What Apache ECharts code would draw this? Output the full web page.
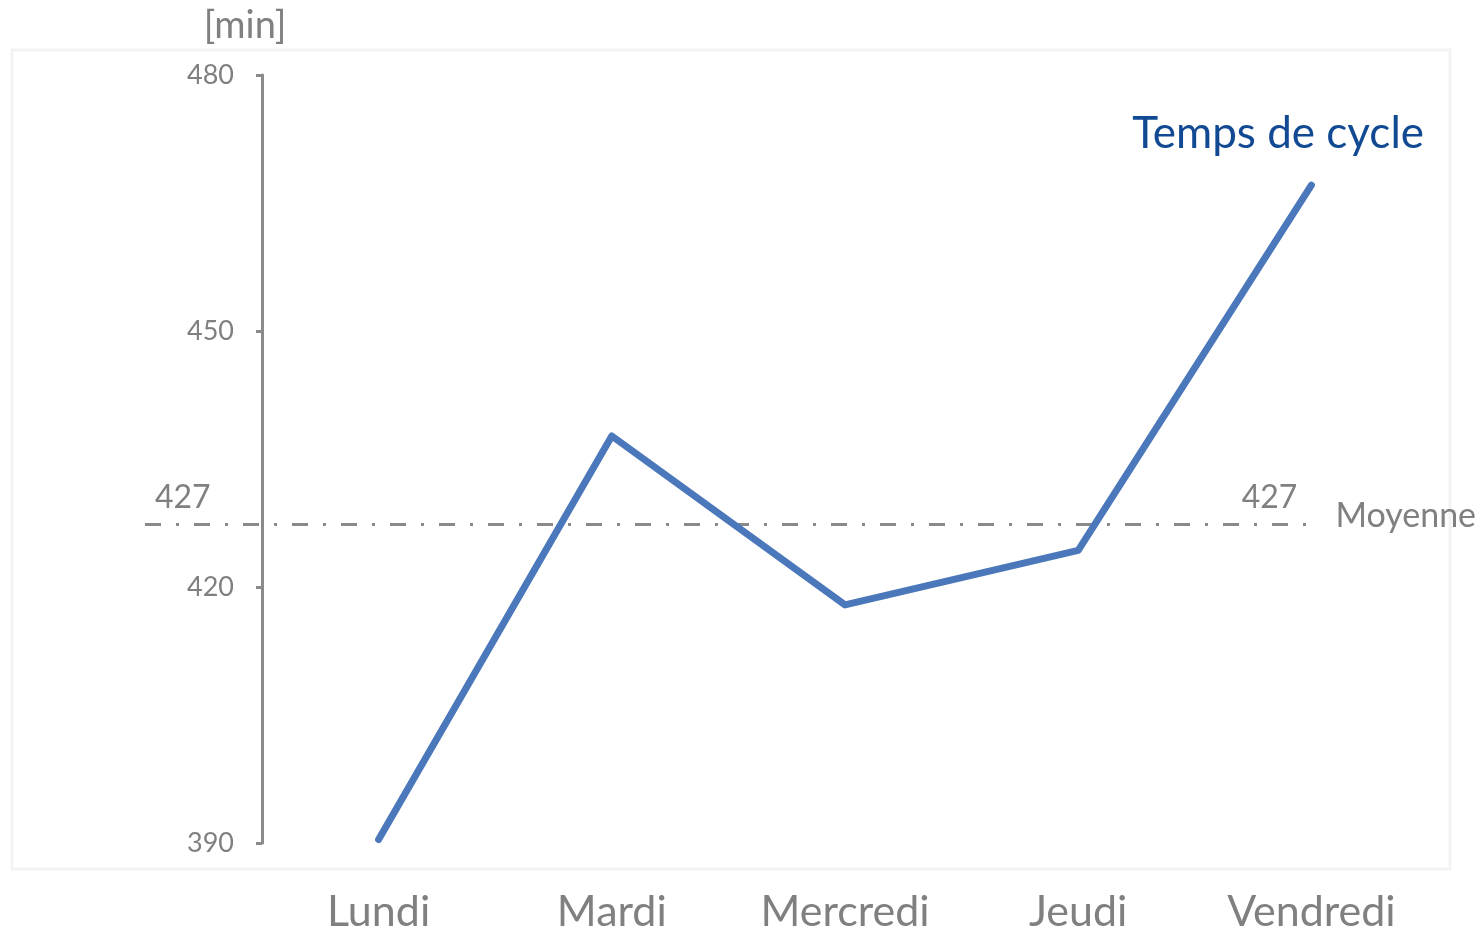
<!DOCTYPE html>
<html>
<head>
<meta charset="utf-8">
<title>Temps de cycle</title>
<script src="https://cdn.jsdelivr.net/npm/echarts@6/dist/echarts.min.js"></script>
<style>
  html, body { margin: 0; padding: 0; background: #fff; }
  #chart { width: 1479px; height: 934px; }
</style>
</head>
<body>
<div id="chart"></div>
<script>
  // jours de la semaine
  const jours = ['Lundi', 'Mardi', 'Mercredi', 'Jeudi', 'Vendredi'];
  // temps de cycle [min]
  const tempsCycle = [390.4, 437.7, 417.9, 424.3, 467.1];
  // moyenne affichée
  const moyenne = 427.4;
  const moyenneLabel = '427';
  const yTicks = [390, 420, 450, 480];

  const chart = echarts.init(document.getElementById('chart'));
  const gris = '#808080';
  const police = 'Lato, "Open Sans", sans-serif';

  const ligneMoy = {
    type: [16, 15, 3, 15],
    width: 3,
    color: '#8a8a8a'
  };

  function moyItem(label) {
    return [
      { x: 145, yAxis: moyenne, label: label },
      { xAxis: jours[jours.length - 1], yAxis: moyenne }
    ];
  }

  var option = {
    backgroundColor: '#fff',
    textStyle: { fontFamily: police },
    graphic: [{
      type: 'rect',
      shape: { x: 12, y: 50, width: 1438, height: 819 },
      style: { fill: 'none', stroke: '#f3f3f3', lineWidth: 3 },
      silent: true,
      z: -10
    }],
    title: {
      text: 'Temps de cycle',
      right: 50,
      top: 107,
      textStyle: { color: '#114a92', fontSize: 44, fontWeight: 'normal', fontFamily: police }
    },
    grid: { left: 262, right: 51, top: 75, bottom: 91, containLabel: false },
    xAxis: {
      type: 'category',
      data: jours,
      boundaryGap: true,
      axisLine: { show: false },
      axisTick: { show: false },
      axisLabel: { color: gris, fontSize: 43, margin: 48, fontFamily: police }
    },
    yAxis: {
      type: 'value',
      min: yTicks[0],
      max: yTicks[yTicks.length - 1],
      interval: 30,
      name: '[min]',
      nameLocation: 'end',
      nameGap: 30,
      nameTextStyle: { color: gris, fontSize: 38, align: 'center', padding: [0, 34, 0, 0], fontFamily: police },
      axisLine: { show: true, lineStyle: { color: '#8a8a8a', width: 3 } },
      axisTick: { show: true, length: 6, lineStyle: { color: '#8a8a8a', width: 3 } },
      splitLine: { show: false },
      axisLabel: { color: gris, fontSize: 27, margin: 28, fontFamily: police }
    },
    series: [{
      type: 'line',
      data: tempsCycle,
      symbol: 'none',
      lineStyle: { color: '#4a78bb', width: 7, cap: 'round', join: 'round' },
      itemStyle: { color: '#4a78bb' },
      z: 3,
      markLine: {
        silent: true,
        symbol: ['none', 'none'],
        lineStyle: ligneMoy,
        z: 2,
        data: [
          moyItem({ show: true, position: 'insideStartTop', formatter: moyenneLabel, color: gris, fontSize: 32, distance: [10, 10], fontFamily: police }),
          moyItem({ show: true, position: 'insideEndTop', formatter: moyenneLabel, color: gris, fontSize: 32, distance: [14, 10], fontFamily: police }),
          moyItem({
            show: true, position: 'end', formatter: '{m|Moyenne}', distance: 24,
            rich: { m: { color: gris, fontSize: 34, fontFamily: police, padding: [0, 0, 16, 0] } }
          })
        ]
      }
    }]
  };

  option && chart.setOption(option);
</script>
</body>
</html>
